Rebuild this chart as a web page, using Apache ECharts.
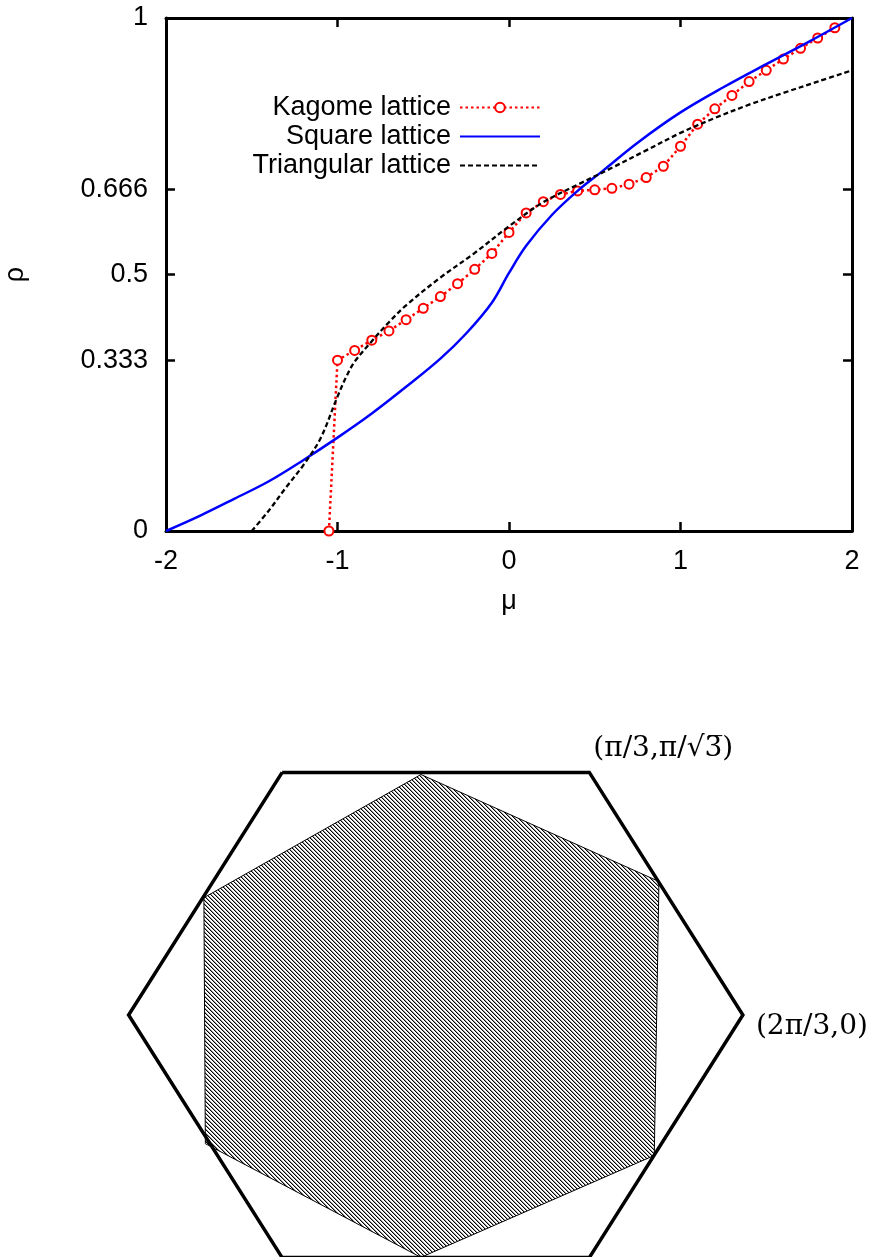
<!DOCTYPE html>
<html><head><meta charset="utf-8">
<script src="https://cdn.jsdelivr.net/npm/echarts@6/dist/echarts.min.js"></script>
<style>html,body{margin:0;padding:0;background:#fff}#c{width:869px;height:1257px}</style>
</head><body><div id="c"></div>
<script>
// ---------- data: top plot ----------
const xTickValues = [-2, -1, 0, 1, 2];
const yTickValues = [0, 0.333, 0.5, 0.666, 1];
const yTickLabels = ['0', '0.333', '0.5', '0.666', '1'];
const seriesNames = ['Kagome lattice', 'Square lattice', 'Triangular lattice'];

const kagomeX = [-1.05, -1.0, -0.9, -0.8, -0.7, -0.6, -0.5, -0.4, -0.3, -0.2, -0.1, 0.0, 0.1, 0.2, 0.3, 0.4, 0.5, 0.6, 0.7, 0.8, 0.9, 1.0, 1.1, 1.2, 1.3, 1.4, 1.5, 1.6, 1.7, 1.8, 1.9];
const kagomeY = [0, 0.333, 0.352, 0.372, 0.390, 0.412, 0.434, 0.457, 0.482, 0.510, 0.541, 0.582, 0.620, 0.642, 0.656, 0.663, 0.665, 0.668, 0.676, 0.689, 0.711, 0.750, 0.793, 0.823, 0.849, 0.876, 0.898, 0.920, 0.941, 0.961, 0.981];

const squareX = [-2.0, -1.8, -1.6, -1.4, -1.2, -1.0, -0.8, -0.6, -0.4, -0.25, -0.1, 0.0, 0.1, 0.25, 0.4, 0.55, 0.75, 1.0, 1.25, 1.5, 1.75, 2.0];
const squareY = [0, 0.030, 0.063, 0.097, 0.138, 0.182, 0.229, 0.281, 0.336, 0.385, 0.445, 0.503, 0.556, 0.616, 0.663, 0.703, 0.757, 0.816, 0.865, 0.910, 0.954, 1.0];

const triX = [-1.5, -1.4, -1.3, -1.2, -1.1, -1.0, -0.95, -0.9, -0.8, -0.7, -0.6, -0.4, -0.2, 0.0, 0.2, 0.4, 0.6, 0.8, 1.0, 1.2, 1.4, 1.6, 1.8, 2.0];
const triY = [0, 0.040, 0.085, 0.128, 0.180, 0.262, 0.300, 0.330, 0.370, 0.407, 0.440, 0.494, 0.542, 0.594, 0.641, 0.675, 0.708, 0.742, 0.776, 0.805, 0.831, 0.854, 0.876, 0.898];

// ---------- data: bottom diagram (k-space units) ----------
const outerHexKx = [-1.0472, 1.0472, 2.0944, 1.0472, -1.0472, -2.0944];
const outerHexKy = [1.8138, 1.8138, 0, -1.8138, -1.8138, 0];
const innerHexKx = [-0.101, 1.522, 1.490, -0.101, -1.571, -1.581];
const innerHexKy = [1.798, 0.998, -1.050, -1.812, -0.962, 0.877];
const cornerLabels = ['(\u03C0/3,\u03C0/\u221A3\u0305)', '(2\u03C0/3,0)'];
const cornerLabelKx = [1.0472, 2.0944];
const cornerLabelKy = [1.8138, 0];

// ---------- build ----------
const zip = (a, b) => a.map((v, i) => [v, b[i]]);
const outerPts = zip(outerHexKx, outerHexKy);
outerPts.push(outerPts[0]);
const innerPts = zip(innerHexKx, innerHexKy);

function makeHatch() {
  const c = document.createElement('canvas');
  c.width = 4; c.height = 4;
  const g = c.getContext('2d');
  g.fillStyle = '#fff'; g.fillRect(0, 0, 4, 4);
  for (let i = 0; i < 4; i++) {
    g.fillStyle = '#000'; g.fillRect(i, i, 1, 1);
    g.fillStyle = '#999'; g.fillRect((i + 1) % 4, i, 1, 1);
  }
  return c;
}
const hatch = { image: makeHatch(), repeat: 'repeat' };

const SANS = 'Liberation Sans';
const FS = 27;
const axisLineStyle = { color: '#000', width: 3 };
const tickStyle = { show: true, inside: true, length: 9, lineStyle: { color: '#000', width: 2.5 } };
const noSymbol = { color: 'rgba(0,0,0,0)', opacity: 0, borderWidth: 0 };

const chart = echarts.init(document.getElementById('c'), null, { renderer: 'canvas' });
chart.setOption({
  animation: false,
  backgroundColor: '#fff',
  grid: [
    { left: 166, top: 18, width: 686, height: 513, containLabel: false, outerBoundsMode: 'none' },
    { left: 128.6, top: 772.4, width: 614.3, height: 485.2, containLabel: false, outerBoundsMode: 'none' }
  ],
  legend: {
    data: [
      { name: seriesNames[0] },
      { name: seriesNames[1], itemStyle: noSymbol },
      { name: seriesNames[2], itemStyle: noSymbol }
    ],
    orient: 'vertical',
    align: 'right',
    right: 328,
    top: 94,
    padding: 0,
    itemWidth: 80,
    itemHeight: 12,
    itemGap: 2,
    selectedMode: false,
    textStyle: { fontFamily: SANS, fontSize: FS, color: '#000', lineHeight: 27, padding: [0, 4, 0, 0] }
  },
  xAxis: [
    {
      gridIndex: 0, type: 'value', position: 'bottom', min: -2, max: 2, interval: 1,
      name: '\u03BC', nameLocation: 'middle', nameGap: 57,
      nameTextStyle: { fontFamily: SANS, fontSize: FS, color: '#000' },
      axisLine: { show: true, onZero: false, lineStyle: axisLineStyle },
      axisTick: tickStyle,
      axisLabel: { show: true, margin: 17, fontFamily: SANS, fontSize: FS, color: '#000', showMinLabel: true, showMaxLabel: true,
        formatter: v => String(xTickValues[xTickValues.indexOf(v)]) },
      splitLine: { show: false }
    },
    {
      gridIndex: 0, type: 'value', position: 'top', min: -2, max: 2, interval: 1,
      axisLine: { show: true, onZero: false, lineStyle: axisLineStyle },
      axisTick: tickStyle,
      axisLabel: { show: false },
      splitLine: { show: false }
    },
    { gridIndex: 1, type: 'value', min: outerHexKx[5], max: outerHexKx[2], show: false }
  ],
  yAxis: [
    {
      gridIndex: 0, type: 'value', position: 'left', min: 0, max: 1,
      name: '\u03C1', nameLocation: 'middle', nameGap: 137,
      nameTextStyle: { fontFamily: SANS, fontSize: FS, color: '#000' },
      axisLine: { show: true, onZero: false, lineStyle: axisLineStyle },
      axisTick: Object.assign({}, tickStyle, { customValues: yTickValues }),
      axisLabel: { show: true, margin: 18, fontFamily: SANS, fontSize: FS, color: '#000',
        customValues: yTickValues,
        formatter: v => yTickLabels[yTickValues.indexOf(v)] },
      splitLine: { show: false }
    },
    {
      gridIndex: 0, type: 'value', position: 'right', min: 0, max: 1,
      axisLine: { show: true, onZero: false, lineStyle: axisLineStyle },
      axisTick: Object.assign({}, tickStyle, { customValues: yTickValues }),
      axisLabel: { show: false, customValues: yTickValues },
      splitLine: { show: false }
    },
    { gridIndex: 1, type: 'value', min: outerHexKy[3], max: outerHexKy[0], show: false }
  ],
  series: [
    {
      name: seriesNames[0], type: 'line', xAxisIndex: 0, yAxisIndex: 0,
      data: zip(kagomeX, kagomeY),
      symbol: 'emptyCircle', symbolSize: 9,
      itemStyle: { color: '#ff0000', borderWidth: 2.6 },
      lineStyle: { color: '#ff0000', width: 2.5, type: [2.5, 3] },
      clip: false, z: 2
    },
    {
      name: seriesNames[1], type: 'line', xAxisIndex: 0, yAxisIndex: 0,
      data: zip(squareX, squareY),
      symbol: 'none', smooth: 0.35,
      itemStyle: { color: '#0000ff' },
      lineStyle: { color: '#0000ff', width: 2.5, type: 'solid' },
      z: 3
    },
    {
      name: seriesNames[2], type: 'line', xAxisIndex: 0, yAxisIndex: 0,
      data: zip(triX, triY),
      symbol: 'none', smooth: 0.35,
      itemStyle: { color: '#000' },
      lineStyle: { color: '#000', width: 2.3, type: [5, 3] },
      z: 4
    },
    {
      name: 'inner', type: 'custom', xAxisIndex: 2, yAxisIndex: 2,
      data: innerPts,
      renderItem: function (params, api) {
        if (params.dataIndex !== 0) return null;
        const pts = innerPts.map(p => api.coord(p));
        return { type: 'polygon', shape: { points: pts },
          style: { fill: hatch, stroke: '#000', lineWidth: 1 } };
      },
      silent: true, z: 2
    },
    {
      name: 'outer', type: 'line', xAxisIndex: 2, yAxisIndex: 2,
      data: outerPts, symbol: 'none',
      lineStyle: { color: '#000', width: 3.5, join: 'miter' },
      itemStyle: { color: '#000' },
      clip: false, silent: true, z: 3
    },
    {
      name: 'labels', type: 'scatter', xAxisIndex: 2, yAxisIndex: 2,
      data: [
        { value: [cornerLabelKx[0], cornerLabelKy[0]], label: { offset: [-1, -24] } },
        { value: [cornerLabelKx[1], cornerLabelKy[1]], label: { offset: [8, 12] } }
      ],
      symbolSize: 0, itemStyle: { color: '#000', opacity: 1 },
      label: { show: true, position: 'right', distance: 5,
        formatter: p => cornerLabels[p.dataIndex],
        fontFamily: 'DejaVu Serif', fontSize: 28, color: '#000', opacity: 1, textBorderWidth: 0 },
      emphasis: { disabled: true },
      clip: false, silent: true, z: 5
    }
  ]
});
</script>
</body></html>
